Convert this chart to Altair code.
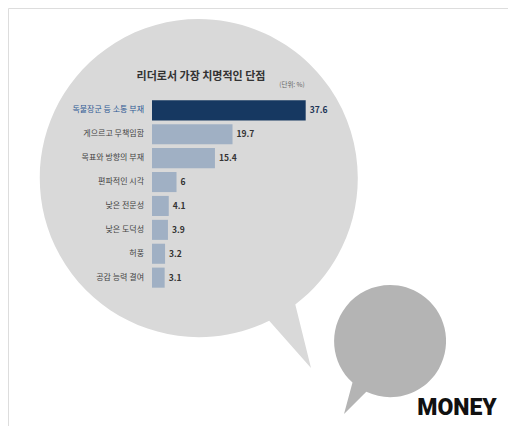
import altair as alt
import pandas as pd

categories = ["독불장군 등 소통 부재", "게으르고 무책임함", "목표와 방향의 부재", "편파적인 시각",
              "낮은 전문성", "낮은 도덕성", "허풍", "공감 능력 결여"]
values = [37.6, 19.7, 15.4, 6, 4.1, 3.9, 3.2, 3.1]
value_labels = ["37.6", "19.7", "15.4", "6", "4.1", "3.9", "3.2", "3.1"]
highlight = [True, False, False, False, False, False, False, False]

title_text = "리더로서 가장 치명적인 단점"
unit_text = "(단위: %)"
brand_text = "MONEY"

df = pd.DataFrame({"cat": categories, "val": values, "lab": value_labels, "hl": highlight})
one = pd.DataFrame({"a": [0]})

FONT = "Noto Sans CJK KR"
PAD = 0
OFF = 8 + PAD  # page pixel -> plot pixel offset


def p(v):
    return v - OFF


# speech bubbles drawn as single outline paths, relative to their circle centres
big_bubble = alt.Chart(one).mark_point(
    shape="M 96.3 126.5 A 159 159 0 1 0 70.2 142.7 L 112 190 Z",
    filled=True, fill="#d9d9d9", strokeWidth=0, opacity=1
).encode(x=alt.value(p(199)), y=alt.value(p(178)), size=alt.value(4))

small_bubble = alt.Chart(one).mark_point(
    shape="M -37.5 41.6 A 56 56 0 1 1 -23.7 50.8 L -46 73 Z",
    filled=True, fill="#b4b4b4", strokeWidth=0, opacity=1
).encode(x=alt.value(p(390)), y=alt.value(p(341)), size=alt.value(4))

yscale = alt.Scale(domain=categories, range=[p(98.4), p(289.6)], paddingInner=0.16, paddingOuter=0.08)
xscale = alt.Scale(domain=[0, 40], range=[p(152), p(315.5)])

bars = alt.Chart(df).mark_bar().encode(
    x=alt.X("val:Q", scale=xscale, axis=None),
    y=alt.Y("cat:N", scale=yscale, axis=None, sort=categories),
    color=alt.condition("datum.hl", alt.value("#163861"), alt.value("#a0b0c4")),
)

cat_labels = alt.Chart(df).mark_text(
    align="right", baseline="middle", font=FONT, fontSize=8
).encode(
    x=alt.value(p(144)),
    y=alt.Y("cat:N", scale=yscale, axis=None, sort=categories),
    text="cat:N",
    color=alt.condition("datum.hl", alt.value("#2f5a94"), alt.value("#444444")),
)

val_labels = alt.Chart(df).mark_text(
    align="left", baseline="middle", dx=4, font=FONT, fontSize=8.5, fontWeight="bold"
).encode(
    x=alt.X("val:Q", scale=xscale, axis=None),
    y=alt.Y("cat:N", scale=yscale, axis=None, sort=categories),
    text="lab:N",
    color=alt.condition("datum.hl", alt.value("#1d3557"), alt.value("#333333")),
)

title = alt.Chart(one).mark_text(
    align="center", baseline="middle", font=FONT, fontSize=11, fontWeight="bold", color="#333333"
).encode(x=alt.value(p(201)), y=alt.value(p(77)), text=alt.value(title_text))

unit = alt.Chart(one).mark_text(
    align="center", baseline="middle", font=FONT, fontSize=6.5, color="#666666"
).encode(x=alt.value(p(292)), y=alt.value(p(85)), text=alt.value(unit_text))

brand = alt.Chart(one).mark_text(
    align="center", baseline="alphabetic", font="Roboto", fontSize=23,
    fontWeight=900, color="#111111"
).encode(x=alt.value(p(457)), y=alt.value(p(415)), text=alt.value(brand_text))

chart = alt.layer(
    big_bubble, small_bubble, bars, cat_labels, val_labels, title, unit, brand
).properties(
    width=500, height=418, padding=PAD, autosize=alt.AutoSizeParams(type="none")
).configure_view(strokeWidth=0, stroke="transparent").configure(background="white")

chart.save("out.html", embed_options={"renderer": "svg", "actions": False})
